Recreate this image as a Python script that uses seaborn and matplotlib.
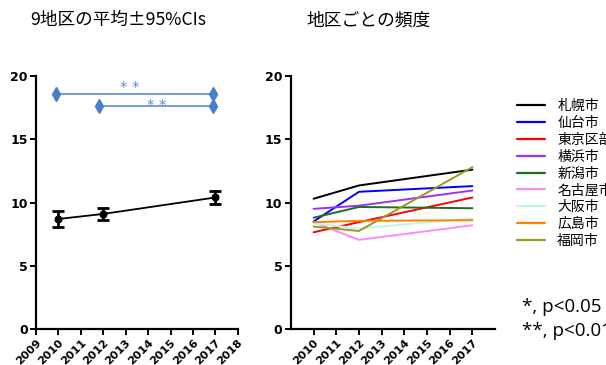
import seaborn as sns
import pandas as pd
import matplotlib.pyplot as plt

# 左: 9地区の平均±95%CI
years_mean = [2010, 2012, 2017]
mean_vals = [8.7, 9.1, 10.4]
ci_vals = [0.6, 0.45, 0.5]

# 有意差のブラケット (開始年, 終了年, 高さ, 星の位置)
sig_start = [2009.9, 2011.8]
sig_end = [2016.9, 2016.9]
sig_y = [18.6, 17.65]
sig_star_x = [2013.2, 2014.4]
sig_label = ['* *', '* *']

# 右: 地区ごとの頻度
years = [2010, 2012, 2017]
cities = ['札幌市', '仙台市', '東京区部', '横浜市', '新潟市', '名古屋市', '大阪市', '広島市', '福岡市']
sapporo = [10.3, 11.35, 12.6]
sendai = [8.5, 10.85, 11.3]
tokyo = [7.65, 8.45, 10.4]
yokohama = [9.5, 9.75, 10.95]
niigata = [8.8, 9.65, 9.55]
nagoya = [8.45, 7.05, 8.2]
osaka = [8.35, 7.95, 8.75]
hiroshima = [8.45, 8.55, 8.6]
fukuoka = [8.1, 7.75, 12.8]
colors = ['#000000', '#0000ff', '#ff0000', '#9b30ff', '#1e6e1e',
          '#ff88ff', '#bff5e6', '#ff8000', '#9a9a20']

series = [sapporo, sendai, tokyo, yokohama, niigata, nagoya, osaka, hiroshima, fukuoka]
df = pd.DataFrame([
    {'年': y, '頻度': v, '地区': c}
    for c, vals in zip(cities, series) for y, v in zip(years, vals)
])
df_mean = pd.DataFrame({'年': years_mean, '平均': mean_vals})

sns.set_theme(style="ticks", rc={'text.color': 'black'})
plt.rcParams['font.family'] = ['Noto Sans CJK JP', 'DejaVu Sans']

fig = plt.figure(figsize=(6.06, 3.65), dpi=100)
ax1 = fig.add_axes([0.0594, 0.0986, 0.333, 0.693])
ax2 = fig.add_axes([0.480, 0.0986, 0.337, 0.693])

tick_font = dict(family='DejaVu Sans', weight='bold')

# 左パネル
sns.lineplot(data=df_mean, x='年', y='平均', ax=ax1, color='black', linewidth=1.3,
             marker='o', markersize=5, markeredgecolor='black')
ax1.errorbar(years_mean, mean_vals, yerr=ci_vals, fmt='none', ecolor='black',
             elinewidth=2, capsize=4, capthick=2)
for x0, x1, y, sx, lab, dy in zip(sig_start, sig_end, sig_y, sig_star_x, sig_label, [0.05, -0.45]):
    ax1.plot([x0, x1], [y, y], color='#5b8fd0', linewidth=1.2, marker='d',
             markersize=7, markerfacecolor='#4a7fc8', markeredgecolor='#4a7fc8')
    ax1.text(sx, y + dy, lab, color='#5b8fd0', ha='center', va='baseline',
             fontsize=10.5, family='DejaVu Sans')
ax1.set_xlim(2009, 2018)
ax1.set_xticks(range(2009, 2019))

# 右パネル
sns.lineplot(data=df, x='年', y='頻度', hue='地区', palette=colors, ax=ax2,
             linewidth=1.4)
ax2.set_xlim(2009, 2018)
ax2.set_xticks(range(2010, 2018))

for ax in (ax1, ax2):
    ax.set_ylim(0, 20)
    ax.set_yticks([0, 5, 10, 15, 20])
    ax.set_xlabel('')
    ax.set_ylabel('')
    for s in ('left', 'bottom'):
        ax.spines[s].set_linewidth(1.6)
        ax.spines[s].set_color('black')
    sns.despine(ax=ax)
    ax.tick_params(axis='both', length=4, width=1.4, colors='black', pad=2)
    for lab in ax.get_xticklabels():
        lab.set(rotation=45, ha='right', rotation_mode='anchor', fontsize=8, **tick_font)
    for lab in ax.get_yticklabels():
        lab.set(fontsize=9, **tick_font)

leg = ax2.legend(loc='upper left', bbox_to_anchor=(1.08, 0.93), frameon=False,
                 fontsize=10, handlelength=2.0, handletextpad=0.9, labelspacing=0.2,
                 borderaxespad=0, labelcolor='black')
for line in leg.get_lines():
    line.set_linewidth(1.6)

fig.text(0.05, 0.945, '9地区の平均±95%CIs', fontsize=12.7, ha='left', va='center', color='black')
fig.text(0.506, 0.945, '地区ごとの頻度', fontsize=12.8, ha='left', va='center', color='black')
fig.text(0.862, 0.16, '*, p<0.05', fontsize=13.5, ha='left', va='center',
         family='Open Sans', color='black')
fig.text(0.862, 0.093, '**, p<0.01', fontsize=13.5, ha='left', va='center',
         family='Open Sans', color='black')

fig.savefig('out.png', dpi=100)
